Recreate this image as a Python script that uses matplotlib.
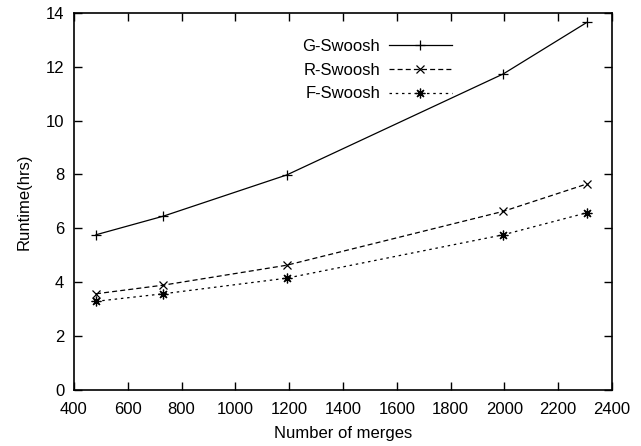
import matplotlib
matplotlib.use("Agg")
import matplotlib.pyplot as plt

merges = [482, 732, 1191, 1996, 2308]
g_swoosh = [5.76, 6.45, 7.98, 11.73, 13.65]
r_swoosh = [3.57, 3.89, 4.63, 6.63, 7.65]
f_swoosh = [3.29, 3.57, 4.15, 5.76, 6.58]

x_ticks = [400, 600, 800, 1000, 1200, 1400, 1600, 1800, 2000, 2200, 2400]
y_ticks = [0, 2, 4, 6, 8, 10, 12, 14]

plt.rcParams['font.family'] = ['Liberation Sans', 'DejaVu Sans']

fig = plt.figure(figsize=(6.41, 4.46), dpi=100)
ax = fig.add_axes([0.1154, 0.1256, 0.8394, 0.8459])

asterisk = (8, 2, 0)
ax.plot(merges, g_swoosh, color='black', lw=0.9, ls='-', marker='+', ms=7, mew=0.9, label='G-Swoosh')
ax.plot(merges, r_swoosh, color='black', lw=0.9, ls=(0, (4, 2.5)), marker='x', ms=6, mew=0.9, label='R-Swoosh')
ax.plot(merges, f_swoosh, color='black', lw=0.9, ls=(0, (2, 3)), marker=asterisk, ms=7, mew=0.9, label='F-Swoosh')

ax.set_xlim(400, 2400)
ax.set_ylim(0, 14)
ax.set_xticks(x_ticks)
ax.set_yticks(y_ticks)
ax.tick_params(direction='in', length=6, width=1, top=True, right=True, labelsize=12)
ax.tick_params(axis='x', pad=9)
ax.tick_params(axis='y', pad=7)
for s in ax.spines.values():
    s.set_linewidth(1.2)

ax.set_xlabel('Number of merges', fontsize=12, labelpad=6)
ax.set_ylabel('Runtime(hrs)', fontsize=12, labelpad=10)

leg = ax.legend(loc='upper left', bbox_to_anchor=(0.397, 0.97), frameon=False, markerfirst=False,
                handlelength=3.8, fontsize=12, labelspacing=0.52, handletextpad=0.5)

fig.savefig('out.png', dpi=100)
